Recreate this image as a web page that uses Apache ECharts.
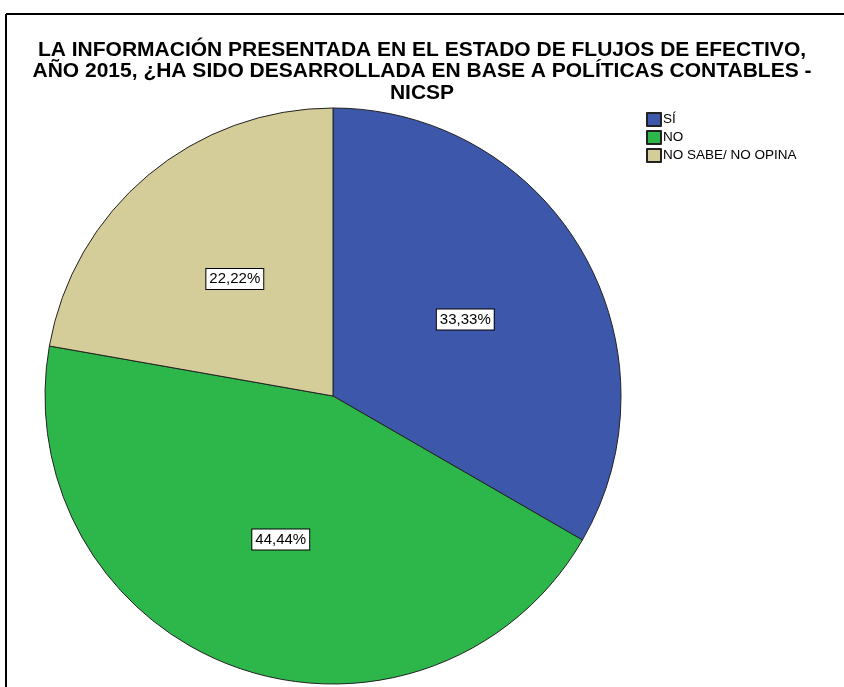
<!DOCTYPE html>
<html>
<head>
<meta charset="utf-8">
<script src="https://cdn.jsdelivr.net/npm/echarts@6/dist/echarts.min.js"></script>
<style>html,body{margin:0;padding:0;background:#fff;}#c{width:844px;height:687px;}</style>
</head>
<body>
<div id="c"></div>
<script>
const categories = ['SÍ', 'NO', 'NO SABE/ NO OPINA'];
const values = [33.33, 44.44, 22.22];
const colors = ['#3D57AB', '#2DB74B', '#D4CC99'];
const titleText = 'LA INFORMACIÓN PRESENTADA EN EL ESTADO DE FLUJOS DE EFECTIVO,\nAÑO 2015, ¿HA SIDO DESARROLLADA EN BASE A POLÍTICAS CONTABLES -\nNICSP';

const pieCenter = [333, 396];
const pieRadius = 288;

const chart = echarts.init(document.getElementById('c'), null, {renderer: 'canvas'});
chart.setOption({
  animation: false,
  backgroundColor: '#fff',
  title: {
    text: titleText,
    left: 'center',
    top: 39,
    padding: 0,
    textStyle: {
      fontFamily: 'Liberation Sans, Arial, sans-serif',
      fontSize: 21,
      fontWeight: 'bold',
      lineHeight: 21.5,
      color: '#000'
    }
  },
  legend: {
    orient: 'vertical',
    left: 646,
    top: 112,
    padding: 0,
    itemWidth: 14,
    itemHeight: 13,
    itemGap: 3,
    icon: 'rect',
    selectedMode: false,
    textStyle: {fontFamily: 'Liberation Sans, Arial, sans-serif', fontSize: 13.5, color: '#000', padding: [0, 0, 0, -3]},
    data: categories
  },
  graphic: [
    {type: 'line', shape: {x1: 6, y1: 14, x2: 844, y2: 14}, style: {stroke: '#000', lineWidth: 2}},
    {type: 'line', shape: {x1: 6, y1: 14, x2: 6, y2: 687}, style: {stroke: '#000', lineWidth: 2}}
  ],
  series: [{
    type: 'pie',
    center: pieCenter,
    radius: pieRadius,
    startAngle: 90,
    clockwise: true,
    silent: true,
    itemStyle: {borderColor: '#222', borderWidth: 1},
    label: {show: false},
    labelLine: {show: false},
    emphasis: {disabled: true},
    data: categories.map((c, i) => ({name: c, value: values[i], itemStyle: {color: colors[i]}}))
  }, {
    type: 'pie',
    center: pieCenter,
    radius: pieRadius * 1.04,
    startAngle: 90,
    clockwise: true,
    silent: true,
    z: 3,
    itemStyle: {color: 'rgba(0,0,0,0)', borderWidth: 0},
    label: {
      show: true,
      position: 'inside',
      formatter: p => p.value.toFixed(2).replace('.', ',') + '%',
      fontFamily: 'Liberation Sans, Arial, sans-serif',
      fontSize: 15,
      color: '#000',
      backgroundColor: '#fff',
      borderColor: '#000',
      borderWidth: 1,
      padding: [3, 3, 2, 3]
    },
    labelLine: {show: false},
    emphasis: {disabled: true},
    data: categories.map((c, i) => ({name: c, value: values[i]}))
  }]
});
</script>
</body>
</html>
